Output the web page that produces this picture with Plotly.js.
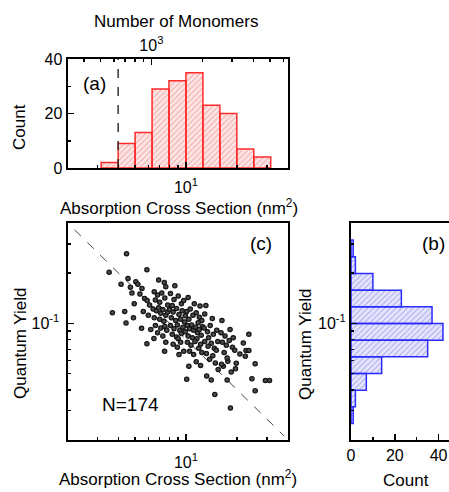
<!DOCTYPE html>
<html><head><meta charset="utf-8">
<script src="https://cdn.plot.ly/plotly-3.0.1.min.js"></script>
<style>html,body{margin:0;padding:0;overflow:hidden;background:#fff}#chart{width:470px;height:492px}</style>
</head><body><div id="chart"></div>
<script>
// ---- data ----
const crossSectionBinEdges = [3.16, 3.98, 5.01, 6.31, 7.94, 10.0, 12.59, 15.85, 19.95, 25.12, 31.62];
const crossSectionCounts = [2, 9, 13, 29, 32, 35, 23, 20, 7, 4];
const yieldBinEdges = [0.316, 0.251, 0.1995, 0.158, 0.126, 0.100, 0.0794, 0.0631, 0.0501, 0.0398, 0.0316, 0.0251];
const yieldCounts = [1, 2, 10, 23, 37, 42, 35, 14, 7, 2, 1];
const monomerThreshold = 3.98;
const guideX = [2.2, 38];
const guideY = [0.364, 0.0211];
const crossSection = [
 4.46,3.52,5.88,4.14,5.06,7.45,3.68,4.43,4.90,5.47,5.88,6.47,7.48,10.4,10.1,13.25,14.1,14.8,17.5,18.3,24.5,25.6,29.4,31.1,23.5,21.8,22.6,23.5,22.4,25.6,19.6,18.5,16.6,17.66,19.8,20.8,
 4.55,4.80,4.70,4.95,4.35,
 5.2,5.5,5.35,5.7,5.9,6.1,5.6,6.0,6.2,
 6.9,7.6,6.5,6.8,7.2,6.6,7.0,7.5,7.8,6.4,6.7,6.9,7.1,7.3,7.6,6.5,7.0,7.4,7.8,6.6,7.1,7.5,6.8,7.7,7.3,7.6,
 8.6,8.1,8.5,9.0,9.4,8.3,9.7,8.0,8.4,8.8,9.1,9.5,9.9,8.2,8.7,9.3,9.8,8.1,8.5,8.9,9.2,9.6,8.3,8.8,9.4,9.9,9.0,8.4,8.9,9.3,9.7,9.1,
 10.3,11.2,12.1,10.1,10.6,11.0,11.5,12.0,12.4,10.4,11.8,10.2,10.5,10.8,11.1,11.4,11.7,12.0,12.3,10.3,10.9,11.6,12.5,10.2,10.7,11.3,11.9,12.2,10.5,11.1,12.4,11.5,12.2,
 13.1,12.9,14.3,12.8,13.4,13.9,14.5,15.2,13.6,12.9,13.5,14.1,14.7,15.4,13.2,14.4,15.1,13.8,14.9,15.5,
 16.3,16.1,17.0,18.2,19.0,16.4,17.3,18.0,18.8,16.8,19.4,17.5,16.2
];
const quantumYield = [
 0.262,0.203,0.210,0.172,0.178,0.176,0.116,0.1005,0.108,0.0934,0.0755,0.0812,0.068,0.0554,0.0462,0.0484,0.0458,0.0375,0.0458,0.0311,0.0466,0.0395,0.0455,0.0455,0.086,0.0762,0.0689,0.0689,0.0635,0.0574,0.0534,0.0511,0.0554,0.0593,0.0577,0.0655,
 0.186,0.152,0.165,0.131,0.118,
 0.172,0.162,0.150,0.141,0.137,0.129,0.118,0.112,0.092,
 0.182,0.166,0.155,0.148,0.152,0.138,0.134,0.142,0.129,0.122,0.119,0.124,0.115,0.121,0.112,0.108,0.106,0.103,0.117,0.097,0.094,0.096,0.088,0.091,0.084,0.077,
 0.168,0.151,0.139,0.146,0.131,0.128,0.137,0.121,0.117,0.123,0.113,0.119,0.111,0.108,0.104,0.106,0.102,0.097,0.093,0.098,0.091,0.095,0.086,0.083,0.087,0.089,0.081,0.075,0.072,0.077,0.068,0.065,
 0.143,0.131,0.127,0.118,0.122,0.112,0.116,0.109,0.104,0.106,0.101,0.097,0.093,0.098,0.091,0.095,0.088,0.092,0.085,0.084,0.082,0.081,0.096,0.077,0.074,0.078,0.071,0.075,0.068,0.065,0.067,0.059,0.056,
 0.128,0.114,0.107,0.094,0.089,0.097,0.086,0.091,0.082,0.078,0.073,0.076,0.071,0.078,0.066,0.064,0.069,0.061,0.058,0.053,
 0.104,0.088,0.084,0.092,0.082,0.077,0.074,0.079,0.072,0.067,0.069,0.062,0.057
];
const monomersPerNm2 = 160;

// ---- layout helpers ----
const W = 470, H = 492;
const fx = v => v / W, fy = v => 1 - v / H;
const FONT = 'Arial, "Liberation Sans", sans-serif';

function vbars(edges, counts) {
  const xs = [], ys = [];
  counts.forEach((c, i) => { xs.push(edges[i], edges[i], edges[i+1], edges[i+1], edges[i], null); ys.push(0, c, c, 0, 0, null); });
  return {xs, ys};
}
function hbars(edges, counts) {
  const xs = [], ys = [];
  counts.forEach((c, i) => { ys.push(edges[i], edges[i], edges[i+1], edges[i+1], edges[i], null); xs.push(0, c, c, 0, 0, null); });
  return {xs, ys};
}
const A = vbars(crossSectionBinEdges, crossSectionCounts);
const B = hbars(yieldBinEdges, yieldCounts);

const traces = [
  {x: A.xs, y: A.ys, xaxis: 'x', yaxis: 'y', mode: 'lines', fill: 'toself',
   line: {color: '#ff2a2a', width: 1.5}, fillcolor: '#fde4e4',
   fillpattern: {shape: '/', fgcolor: '#f3a6a6', bgcolor: '#fde6e6', size: 4, solidity: 0.25}, hoverinfo: 'skip'},
  {x: [monomerThreshold, monomerThreshold], y: [0, 40], xaxis: 'x', yaxis: 'y', mode: 'lines',
   line: {color: '#333', width: 1.5, dash: 'dash'}},
  {x: [320, 6400], y: [null, null], xaxis: 'x2', yaxis: 'y', mode: 'lines', showlegend: false},
  {x: guideX, y: guideY, xaxis: 'x3', yaxis: 'y3', mode: 'lines', line: {color: '#444', width: 1, dash: 'dash'}},
  {x: crossSection, y: quantumYield, xaxis: 'x3', yaxis: 'y3', mode: 'markers',
   marker: {color: '#000', size: 5.5, line: {width: 0}, gradient: {type: 'radial', color: '#666'}}},
  {x: B.xs, y: B.ys, xaxis: 'x4', yaxis: 'y4', mode: 'lines', fill: 'toself',
   line: {color: '#2a2aff', width: 1.5}, fillcolor: '#e4e4fb',
   fillpattern: {shape: '/', fgcolor: '#a8a8f0', bgcolor: '#e6e6fc', size: 4, solidity: 0.25}, hoverinfo: 'skip'}
];

const axBase = {showline: true, linecolor: '#000', linewidth: 2, ticks: 'inside', ticklen: 6, tickwidth: 1.5, tickcolor: '#000',
  showgrid: false, zeroline: false, tickfont: {family: FONT, size: 16, color: '#000'}};
const minorLog = vals => ({tickmode: 'array', tickvals: vals, ticks: 'inside', ticklen: 3, tickwidth: 1.5, tickcolor: '#000', showgrid: false});
const xMinor = [3,4,5,6,7,8,9,20,30];
const yMinor = [0.03,0.04,0.05,0.06,0.07,0.08,0.09,0.2,0.3];
const xDom = [fx(67.5), fx(288)];
const yDomA = [fy(168), fy(59)];
const yDomC = [fy(440), fy(223)];

const layout = {
  width: W, height: H, margin: {l: 0, r: 0, t: 0, b: 0}, showlegend: false,
  paper_bgcolor: '#fff', plot_bgcolor: '#fff', font: {family: FONT, color: '#000'},
  xaxis: Object.assign({}, axBase, {type: 'log', range: [Math.log10(2), Math.log10(40)], domain: xDom, anchor: 'y',
    tickmode: 'array', tickvals: [10], ticktext: ['10<sup>1</sup>'], ticklabelstandoff: 4, minor: minorLog(xMinor)}),
  xaxis2: Object.assign({}, axBase, {type: 'log', overlaying: 'x', side: 'top', anchor: 'y',
    range: [Math.log10(2 * monomersPerNm2), Math.log10(40 * monomersPerNm2)],
    tickmode: 'array', tickvals: [1000], ticktext: ['10<sup>3</sup>'], minor: minorLog([400,500,600,700,800,900,2000,3000,4000,5000,6000])}),
  yaxis: Object.assign({}, axBase, {range: [0, 40], domain: yDomA, anchor: 'x', mirror: true,
    tickmode: 'array', tickvals: [0, 20, 40], minor: minorLog([10, 30])}),
  xaxis3: Object.assign({}, axBase, {type: 'log', range: [Math.log10(2), Math.log10(40)], domain: xDom, anchor: 'y3', mirror: true,
    tickmode: 'array', tickvals: [10], ticktext: ['10<sup>1</sup>'], ticklabelstandoff: 7, minor: minorLog(xMinor)}),
  yaxis3: Object.assign({}, axBase, {type: 'log', range: [Math.log10(0.02), Math.log10(0.4)], domain: yDomC, anchor: 'x3', mirror: true,
    tickmode: 'array', tickvals: [0.1], ticktext: ['10<sup>-1</sup>'], ticklabelstandoff: 3, minor: minorLog(yMinor)}),
  xaxis4: Object.assign({}, axBase, {range: [0, 50], domain: [fx(351), fx(460.5)], anchor: 'y4', mirror: true,
    tickmode: 'array', tickvals: [0, 20, 40], minor: minorLog([10, 30])}),
  yaxis4: Object.assign({}, axBase, {type: 'log', range: [Math.log10(0.02), Math.log10(0.4)], domain: yDomC, anchor: 'x4', mirror: true,
    tickmode: 'array', tickvals: [0.1], ticktext: ['10<sup>-1</sup>'], minor: minorLog(yMinor)}),
  annotations: []
};

function note(text, x, y, size, angle) {
  layout.annotations.push({text, x: fx(x), y: fy(y), xref: 'paper', yref: 'paper', xanchor: 'center', yanchor: 'middle',
    showarrow: false, textangle: angle || 0, font: {family: FONT, size, color: '#000'}});
}
note('Number of Monomers', 176, 21, 17);
note('Absorption Cross Section (nm<sup>2</sup>)', 179, 207, 17);
note('Count', 20, 127, 17, -90);
note('(a)', 94, 83, 19);
note('Quantum Yield', 20, 343, 17, -90);
note('Absorption Cross Section (nm<sup>2</sup>)', 178, 478, 17);
note('(c)', 261, 244, 19);
note('N=174', 130, 404, 19);
note('Quantum Yield', 305, 344, 17, -90);
note('Count', 406, 480, 17);
note('(b)', 433, 243, 19);

Plotly.newPlot('chart', traces, layout, {staticPlot: true, displayModeBar: false});
</script>
</body></html>
